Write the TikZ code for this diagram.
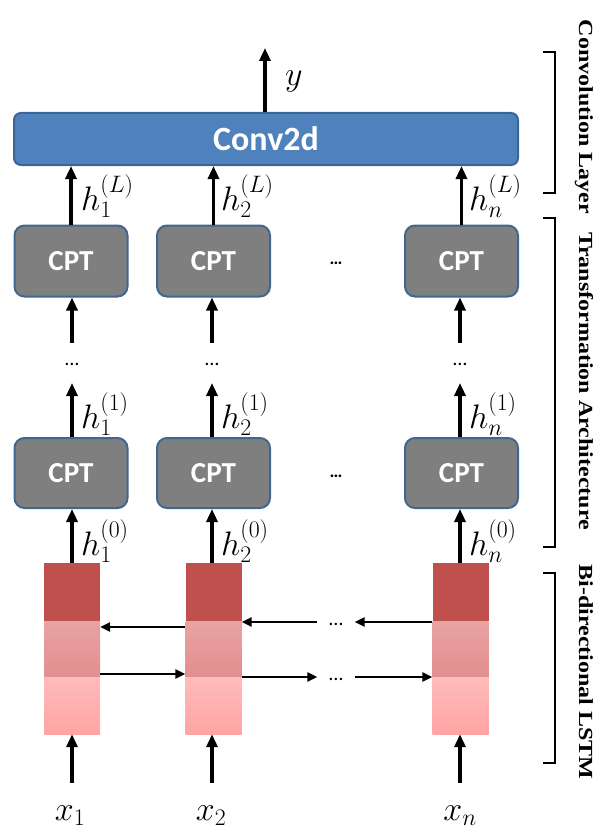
\RequirePackage{fix-cm}
\documentclass[tikz,border=0pt]{standalone}
\usepackage{fontspec}
\newfontfamily\carlito{Carlito}
\newfontfamily\timesf{Liberation Serif}
\usetikzlibrary{arrows.meta}
\definecolor{convblue}{HTML}{4F81BD}
\definecolor{convborder}{HTML}{3A6594}
\definecolor{cptgray}{HTML}{7F7F7F}
\definecolor{cptborder}{HTML}{41668F}
\definecolor{lstmtop}{HTML}{C0504D}
\definecolor{lstmmidA}{HTML}{E8A3A3}
\definecolor{lstmmidB}{HTML}{E28E8E}
\definecolor{lstmlowA}{HTML}{FFBBBB}
\definecolor{lstmlowB}{HTML}{FFA4A4}
\newcommand{\hlab}[2]{$h^{(#2)}_{\vphantom{(}#1}$}
\tikzset{
  arr/.style={line width=3.3pt, -{Triangle[length=13pt,width=11pt]}},
  harr/.style={line width=2.5pt, -{Triangle[length=10pt,width=9pt]}},
  convbox/.style={draw=convborder, line width=2pt, fill=convblue, rounded corners=7pt,
    minimum width=504pt, minimum height=52pt, inner sep=0pt, text=white,
    font=\carlito\bfseries\fontsize{34}{38}\selectfont},
  cptbox/.style={draw=cptborder, line width=2pt, fill=cptgray, rounded corners=10pt,
    minimum width=113pt, minimum height=71pt, inner sep=0pt, text=white,
    font=\carlito\bfseries\fontsize{29}{34}\selectfont},
  lstmseg/.style={minimum width=56pt, inner sep=0pt, draw=none},
  lbl/.style={inner sep=0pt, font=\fontsize{34}{38}\selectfont},
  dotsb/.style={inner sep=0pt, font=\carlito\bfseries\fontsize{18}{20}\selectfont},
  dotsr/.style={inner sep=0pt, minimum height=36pt, font=\carlito\fontsize{20}{22}\selectfont},
  dotsh/.style={inner sep=0pt, minimum width=37pt, font=\carlito\fontsize{20}{22}\selectfont},
  brk/.style={line width=2.5pt},
  side/.style={inner sep=0pt, rotate=-90, font=\timesf\bfseries\fontsize{20}{24}\selectfont}
}
\begin{document}
\begin{tikzpicture}[x=1pt, y=-1pt]
\useasboundingbox (0,0) rectangle (607,832);

% Conv layer
\node[convbox] (conv) at (266,139) {Conv2d};
\coordinate (yout) at (265,48);
\draw[arr] (conv.north -| yout) -- (yout);
\node[lbl, anchor=base west] (ylab) at (285,86) {$y$};

% CPT top row
\node[cptbox] (t1) at (71,261) {CPT};
\node[cptbox] (t2) at (213.5,261) {CPT};
\node[cptbox] (t3) at (461.5,261) {CPT};
\node[dotsb] (td) at (336,263) {…};

% CPT bottom row
\node[cptbox, minimum height=70pt] (b1) at (71,473) {CPT};
\node[cptbox, minimum height=70pt] (b2) at (213.5,473) {CPT};
\node[cptbox, minimum height=70pt] (b3) at (461.5,473) {CPT};
\node[dotsb] (bd) at (336,476) {…};

% middle dots
\node[dotsr] (m1) at (72,364) {…};
\node[dotsr] (m2) at (212,364) {…};
\node[dotsr] (m3) at (460,364) {…};
\coordinate (mtop) at (0,343);
\coordinate (mbot) at (0,383);

% LSTM stacks
\foreach \n/\x in {1/72, 2/213.5, 3/460.5}{
  \node[lstmseg, fill=lstmtop, minimum height=58pt] (l\n a) at (\x,592) {};
  \node[lstmseg, top color=lstmmidA, bottom color=lstmmidB, minimum height=56pt] (l\n b) at (\x,649) {};
  \node[lstmseg, top color=lstmlowA, bottom color=lstmlowB, minimum height=57pt] (l\n c) at (\x,705.5) {};
}

% vertical arrows
\draw[arr] (t1.north) -- (t1.north |- conv.south);
\draw[arr] (t2.north) -- (t2.north |- conv.south);
\draw[arr] (t3.north) -- (t3.north |- conv.south);
\draw[arr] (m1 |- mtop) -- (m1 |- t1.south);
\draw[arr] (m2 |- mtop) -- (m2 |- t2.south);
\draw[arr] (m3 |- mtop) -- (m3 |- t3.south);
\draw[arr] (m1 |- b1.north) -- (m1 |- mbot);
\draw[arr] (m2 |- b2.north) -- (m2 |- mbot);
\draw[arr] (m3 |- b3.north) -- (m3 |- mbot);
\draw[arr] (l1a.north) -- (l1a.north |- b1.south);
\draw[arr] (l2a.north -| m2) -- (m2 |- b2.south);
\draw[arr] (l3a.north -| m3) -- (m3 |- b3.south);

% inputs
\coordinate (in1) at (72,783);
\coordinate (in2) at (212,783);
\coordinate (in3) at (460,783);
\draw[arr] (in1) -- (in1 |- l1c.south);
\draw[arr] (in2) -- (in2 |- l2c.south);
\draw[arr] (in3) -- (in3 |- l3c.south);
\node[lbl, anchor=base] (x1) at (70,820) {$x_1$};
\node[lbl, anchor=base] (x2) at (211,820) {$x_2$};
\node[lbl, anchor=base] (xn) at (460,820) {$x_n$};

% labels h
\node[lbl, anchor=base west] (hL1) at (81,210) {\hlab{1}{L}};
\node[lbl, anchor=base west] (hL2) at (221,210) {\hlab{2}{L}};
\node[lbl, anchor=base west] (hLn) at (469,210) {\hlab{n}{L}};
\node[lbl, anchor=base west] (h11) at (81,428) {\hlab{1}{1}};
\node[lbl, anchor=base west] (h12) at (221,428) {\hlab{2}{1}};
\node[lbl, anchor=base west] (h1n) at (469,428) {\hlab{n}{1}};
\node[lbl, anchor=base west] (h01) at (81,555) {\hlab{1}{0}};
\node[lbl, anchor=base west] (h02) at (221,555) {\hlab{2}{0}};
\node[lbl, anchor=base west] (h0n) at (469,555) {\hlab{n}{0}};

% horizontal LSTM arrows
\node[dotsh] (hd1) at (336,624) {…};
\node[dotsh] (hd2) at (336,679) {…};
\coordinate (yb1) at (0,627);
\coordinate (yb2) at (0,622);
\coordinate (yf1) at (0,674);
\coordinate (yf2) at (0,677);
\draw[harr] (l2b.west |- yb1) -- (l1b.east |- yb1);
\draw[harr] (l3b.west |- yb2) -- (hd1.east |- yb2);
\draw[harr] (hd1.west |- yb2) -- (l2b.east |- yb2);
\draw[harr] (l1b.east |- yf1) -- (l2b.west |- yf1);
\draw[harr] (l2b.east |- yf2) -- (hd2.west |- yf2);
\draw[harr] (hd2.east |- yf2) -- (l3b.west |- yf2);

% brackets
\draw[brk] (543,52) -- (555,52) -- (555,193) -- (543,193);
\draw[brk] (543,218) -- (555,218) -- (555,547) -- (543,547);
\draw[brk] (543,573) -- (555,573) -- (555,763) -- (543,763);
\node[side, anchor=base] (s1) at (579,117) {\scalebox{1.2}[1]{Convolution Layer}};
\node[side, anchor=base] (s2) at (579,381) {\scalebox{1.2}[1]{Transformation Architecture}};
\node[side, anchor=base] (s3) at (579,672) {\scalebox{1.2}[1]{Bi-directional LSTM}};
\end{tikzpicture}
\end{document}
